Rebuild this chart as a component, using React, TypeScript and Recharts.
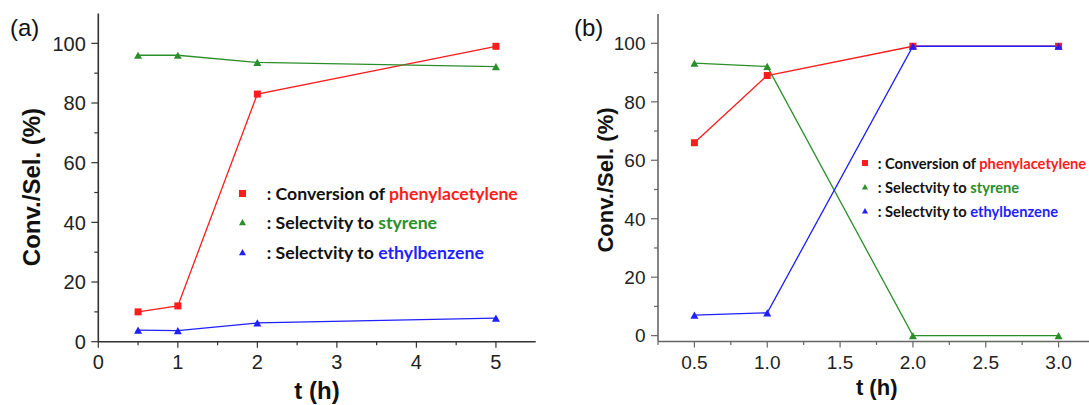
import React from 'react';
import { LineChart, Line, XAxis, YAxis, Legend } from 'recharts';

// panel (a): conversion / selectivity vs time
const TIMES_A = [0.5, 1, 2, 5];
const CONVERSION_A = [10, 12, 83, 99];
const STYRENE_A = [96, 96, 93.6, 92.2];
const ETHYLBENZENE_A = [3.9, 3.7, 6.3, 7.9];

// panel (b)
const TIMES_B = [0.5, 1, 2, 3];
const CONVERSION_B = [66, 89, 99, 99];
const STYRENE_B = [93.2, 92.1, 0, 0];
const ETHYLBENZENE_B = [7, 7.8, 99, 99];

const X_TICKS_A = [0, 0.5, 1, 1.5, 2, 2.5, 3, 3.5, 4, 4.5, 5];
const X_LABELS_A = [0, 1, 2, 3, 4, 5];
const X_TICKS_B = [0.25, 0.5, 0.75, 1, 1.25, 1.5, 1.75, 2, 2.25, 2.5, 2.75, 3];
const X_LABELS_B = [0.5, 1, 1.5, 2, 2.5, 3];
const Y_TICKS = [0, 10, 20, 30, 40, 50, 60, 70, 80, 90, 100];
const Y_LABELS = [0, 20, 40, 60, 80, 100];

const RED = '#ff1c1c';
const GREEN = '#2a8f2a';
const BLUE = '#1f1fff';
const TICK_FONT = '"Liberation Sans", Arial, sans-serif';
const LEGEND_FONT = 'Lato, "Noto Sans", sans-serif';

const buildRows = (t: number[], c: number[], s: number[], e: number[]) =>
    t.map((v, i) => ({ t: v, conv: c[i], sty: s[i], eth: e[i] }));

const squareDot = (size: number) => (props: any) => {
    const { cx, cy, index } = props;
    if (cx == null || cy == null) return <g key={`s-${index}`} />;
    return <rect key={`s-${index}`} x={cx - size / 2} y={cy - size / 2} width={size} height={size} fill={RED} />;
};

const triDot = (color: string, size: number) => (props: any) => {
    const { cx, cy, index } = props;
    if (cx == null || cy == null) return <g key={`t-${index}`} />;
    const h = size * 0.9;
    const pts = `${cx},${cy - h / 2} ${cx - size / 2},${cy + h / 2} ${cx + size / 2},${cy + h / 2}`;
    return <polygon key={`t-${index}`} points={pts} fill={color} />;
};

const LegendMarker = ({ kind, color, size }: { kind: string; color: string; size: number }) => (
    <svg width={size + 2} height={size + 2} style={{ display: 'block', flex: 'none' }}>
        {kind === 'square'
            ? <rect x={1} y={1} width={size} height={size} fill={color} />
            : <polygon points={`${1 + size / 2},1 1,${1 + size * 0.9} ${1 + size},${1 + size * 0.9}`} fill={color} />}
    </svg>
);

interface PanelProps {
    tag: string;
    tagLeft: number;
    left: number;
    rows: any[];
    xDomain: [number, number];
    yDomain: [number, number];
    xTicks: number[];
    xLabels: number[];
    fmtX: (v: number) => string;
    plotLeft: number;
    plotRight: number;
    plotTop: number;
    plotBottom: number;
    axisColor: string;
    tickFont: number;
    titleFont: number;
    yTitle: { x: number; y: number };
    xTitle: { x: number; y: number };
    legend: { left: number; top: number; row: number; font: number; marker: number; gap: number };
    dotSize: number;
}

const W = 545;
const H = 405;

const Panel: React.FC<PanelProps> = (p) => {
    const XTick = (props: any) => {
        const { x, y, payload } = props;
        const major = p.xLabels.includes(payload.value);
        return (
            <g>
                <line x1={x} x2={x} y1={y} y2={y + (major ? 6 : 3.5)} stroke={p.axisColor} strokeWidth={1.2} />
                {major && (
                    <text x={x} y={y + 27.5} textAnchor="middle" fontSize={p.tickFont} fill="#222" fontFamily={TICK_FONT}>
                        {p.fmtX(payload.value)}
                    </text>
                )}
            </g>
        );
    };
    const YTick = (props: any) => {
        const { x, y, payload } = props;
        const major = Y_LABELS.includes(payload.value);
        return (
            <g>
                <line x1={x} x2={x - (major ? 7 : 4)} y1={y} y2={y} stroke={p.axisColor} strokeWidth={1.2} />
                {major && (
                    <text x={x - 12.5} y={y + p.tickFont * 0.36} textAnchor="end" fontSize={p.tickFont} fill="#222" fontFamily={TICK_FONT}>
                        {payload.value}
                    </text>
                )}
            </g>
        );
    };

    const legendRows = [
        { kind: 'square', color: RED, lead: ': Conversion of ', word: 'phenylacetylene' },
        { kind: 'tri', color: GREEN, lead: ': Selectvity to ', word: 'styrene' },
        { kind: 'tri', color: BLUE, lead: ': Selectvity to ', word: 'ethylbenzene' },
    ];
    const lg = p.legend;
    const renderLegend = () => (
        <div style={{ fontFamily: LEGEND_FONT, fontWeight: 700, fontSize: lg.font, color: '#111' }}>
            {legendRows.map((r) => (
                <div key={r.word} style={{ display: 'flex', alignItems: 'center', height: lg.row, whiteSpace: 'pre' }}>
                    <LegendMarker kind={r.kind} color={r.color} size={lg.marker} />
                    <span style={{ marginLeft: lg.gap, whiteSpace: 'pre' }}>{r.lead}</span>
                    <span style={{ color: r.color, whiteSpace: 'pre' }}>{r.word}</span>
                </div>
            ))}
        </div>
    );

    return (
        <div style={{ position: 'absolute', left: p.left, top: 0, width: W, height: H }}>
            <div style={{ position: 'absolute', left: p.tagLeft, top: 15.5, fontFamily: TICK_FONT, fontSize: 24, lineHeight: 1, color: '#111' }}>
                {p.tag}
            </div>
            <LineChart
                width={W}
                height={H}
                data={p.rows}
                margin={{ top: p.plotTop, right: W - p.plotRight, bottom: 0, left: 0 }}
            >
                <XAxis
                    type="number"
                    dataKey="t"
                    domain={p.xDomain}
                    allowDataOverflow
                    ticks={p.xTicks}
                    interval={0}
                    tickSize={0}
                    tickMargin={0}
                    tick={XTick}
                    height={H - p.plotBottom}
                    axisLine={{ stroke: p.axisColor, strokeWidth: 1.6 }}
                    label={{
                        content: () => (
                            <text x={p.xTitle.x} y={p.xTitle.y} textAnchor="middle" fontSize={p.titleFont} fontWeight={700} fontFamily={TICK_FONT} fill="#111">
                                t (h)
                            </text>
                        ),
                    }}
                />
                <XAxis xAxisId="top" orientation="top" type="number" domain={p.xDomain} allowDataOverflow height={0} tick={false} tickLine={false} axisLine={{ stroke: p.axisColor, strokeWidth: 1.6 }} />
                <YAxis
                    type="number"
                    domain={p.yDomain}
                    allowDataOverflow
                    ticks={Y_TICKS}
                    interval={0}
                    tickSize={0}
                    tickMargin={0}
                    tick={YTick}
                    width={p.plotLeft}
                    axisLine={{ stroke: p.axisColor, strokeWidth: 1.6 }}
                    label={{
                        content: () => (
                            <text
                                x={p.yTitle.x}
                                y={p.yTitle.y}
                                transform={`rotate(-90, ${p.yTitle.x}, ${p.yTitle.y})`}
                                textAnchor="middle"
                                dominantBaseline="central"
                                fontSize={p.titleFont}
                                fontWeight={700}
                                fontFamily={TICK_FONT}
                                fill="#111"
                            >
                                Conv./Sel. (%)
                            </text>
                        ),
                    }}
                />
                <YAxis yAxisId="right" orientation="right" type="number" domain={p.yDomain} allowDataOverflow width={0} tick={false} tickLine={false} axisLine={{ stroke: p.axisColor, strokeWidth: 1.6 }} />
                <Legend
                    layout="vertical"
                    align="center"
                    verticalAlign="middle"
                    content={renderLegend}
                    wrapperStyle={{ left: lg.left, top: lg.top, width: 'auto' }}
                />
                <Line dataKey="conv" stroke={RED} strokeWidth={1.3} dot={squareDot(p.dotSize)} isAnimationActive={false} legendType="none" />
                <Line dataKey="sty" stroke={GREEN} strokeWidth={1.3} dot={triDot(GREEN, p.dotSize + 1)} isAnimationActive={false} legendType="none" />
                <Line dataKey="eth" stroke={BLUE} strokeWidth={1.3} dot={triDot(BLUE, p.dotSize + 1)} isAnimationActive={false} legendType="none" />
            </LineChart>
        </div>
    );
};

const App: React.FC = () => {
    return (
        <div style={{ position: 'fixed', left: 0, top: 0, width: 1089, height: 405, overflow: 'hidden', background: '#fff' }}>
            <Panel
                tag="(a)"
                tagLeft={10}
                left={0}
                rows={buildRows(TIMES_A, CONVERSION_A, STYRENE_A, ETHYLBENZENE_A)}
                xDomain={[0, 5.5]}
                yDomain={[0, 110]}
                xTicks={X_TICKS_A}
                xLabels={X_LABELS_A}
                fmtX={(v) => String(v)}
                plotLeft={98.3}
                plotRight={535.7}
                plotTop={13.5}
                plotBottom={341.7}
                axisColor="#333"
                tickFont={20}
                titleFont={24}
                yTitle={{ x: 31.5, y: 187 }}
                xTitle={{ x: 317, y: 399 }}
                legend={{ left: 237.7, top: 178.5, row: 29.6, font: 17.7, marker: 7, gap: 20 }}
                dotSize={7}
            />
            <Panel
                tag="(b)"
                tagLeft={14}
                left={560}
                rows={buildRows(TIMES_B, CONVERSION_B, STYRENE_B, ETHYLBENZENE_B)}
                xDomain={[0.25, 3.25]}
                yDomain={[-2, 110]}
                xTicks={X_TICKS_B}
                xLabels={X_LABELS_B}
                fmtX={(v) => v.toFixed(1)}
                plotLeft={98}
                plotRight={535}
                plotTop={14.1}
                plotBottom={341.5}
                axisColor="#666"
                tickFont={19}
                titleFont={22}
                yTitle={{ x: 45, y: 180 }}
                xTitle={{ x: 316.7, y: 395 }}
                legend={{ left: 301, top: 151.4, row: 23.9, font: 14.7, marker: 6, gap: 8.7 }}
                dotSize={7}
            />
        </div>
    );
};

export default App;
